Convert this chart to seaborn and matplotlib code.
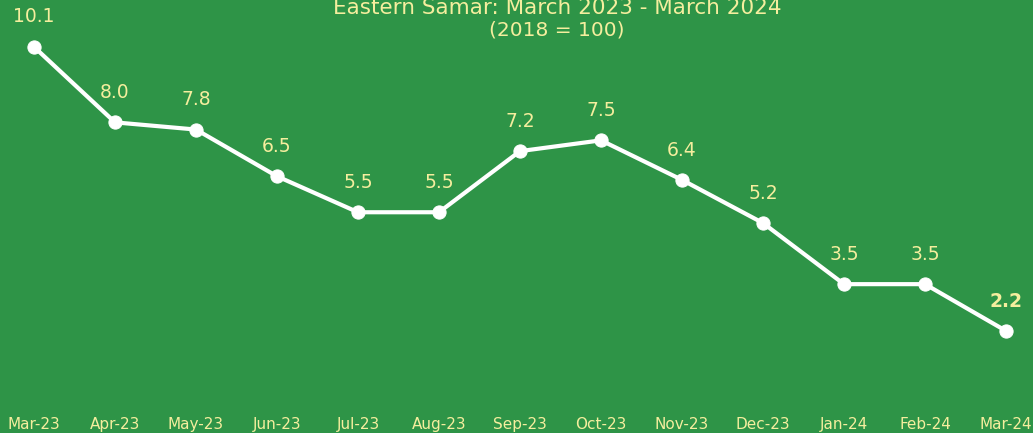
import seaborn as sns
import pandas as pd
import matplotlib.pyplot as plt

months = ['Mar-23', 'Apr-23', 'May-23', 'Jun-23', 'Jul-23', 'Aug-23', 'Sep-23',
          'Oct-23', 'Nov-23', 'Dec-23', 'Jan-24', 'Feb-24', 'Mar-24']
inflation = [10.1, 8.0, 7.8, 6.5, 5.5, 5.5, 7.2, 7.5, 6.4, 5.2, 3.5, 3.5, 2.2]

bg = '#2e9447'
txt = '#f5ee9e'

sns.set_style('white')
plt.rcParams['font.family'] = ['DejaVu Sans']

df = pd.DataFrame({'month': months, 'value': inflation})
df['pos'] = range(len(df))

fig = plt.figure(figsize=(10.33, 4.33), dpi=100, facecolor=bg)
ax = fig.add_axes([34 / 1033, 23 / 433, 972 / 1033, 395.5 / 433])
ax.set_facecolor(bg)

sns.lineplot(data=df, x='pos', y='value', ax=ax, color='white', linewidth=3,
             marker='o', markersize=9.5, markeredgecolor='white', clip_on=False)

for i, row in df.iterrows():
    last = i == len(df) - 1
    ax.annotate(f"{row['value']:.1f}", (row['pos'], row['value']),
                textcoords='offset points', xytext=(0, 21.5), ha='center', va='center',
                color=txt, fontsize=13.5, fontweight='bold' if last else 'normal',
                annotation_clip=False)

ax.set_xlim(0, 12)
ax.set_ylim(0, 11)
ax.set_xticks(df['pos'])
ax.set_xticklabels(months, color=txt, fontsize=11)
ax.tick_params(axis='x', length=0, pad=5)
ax.set_yticks([])
ax.set_xlabel('')
ax.set_ylabel('')
for s in ax.spines.values():
    s.set_visible(False)

fig.text(557 / 1033, 1 - 8 / 433, 'Eastern Samar: March 2023 - March 2024',
         ha='center', va='center', color=txt, fontsize=15.5)
fig.text(557 / 1033, 1 - 30 / 433, '(2018 = 100)',
         ha='center', va='center', color=txt, fontsize=14.5)

fig.savefig('out.png', dpi=100, facecolor=bg)
